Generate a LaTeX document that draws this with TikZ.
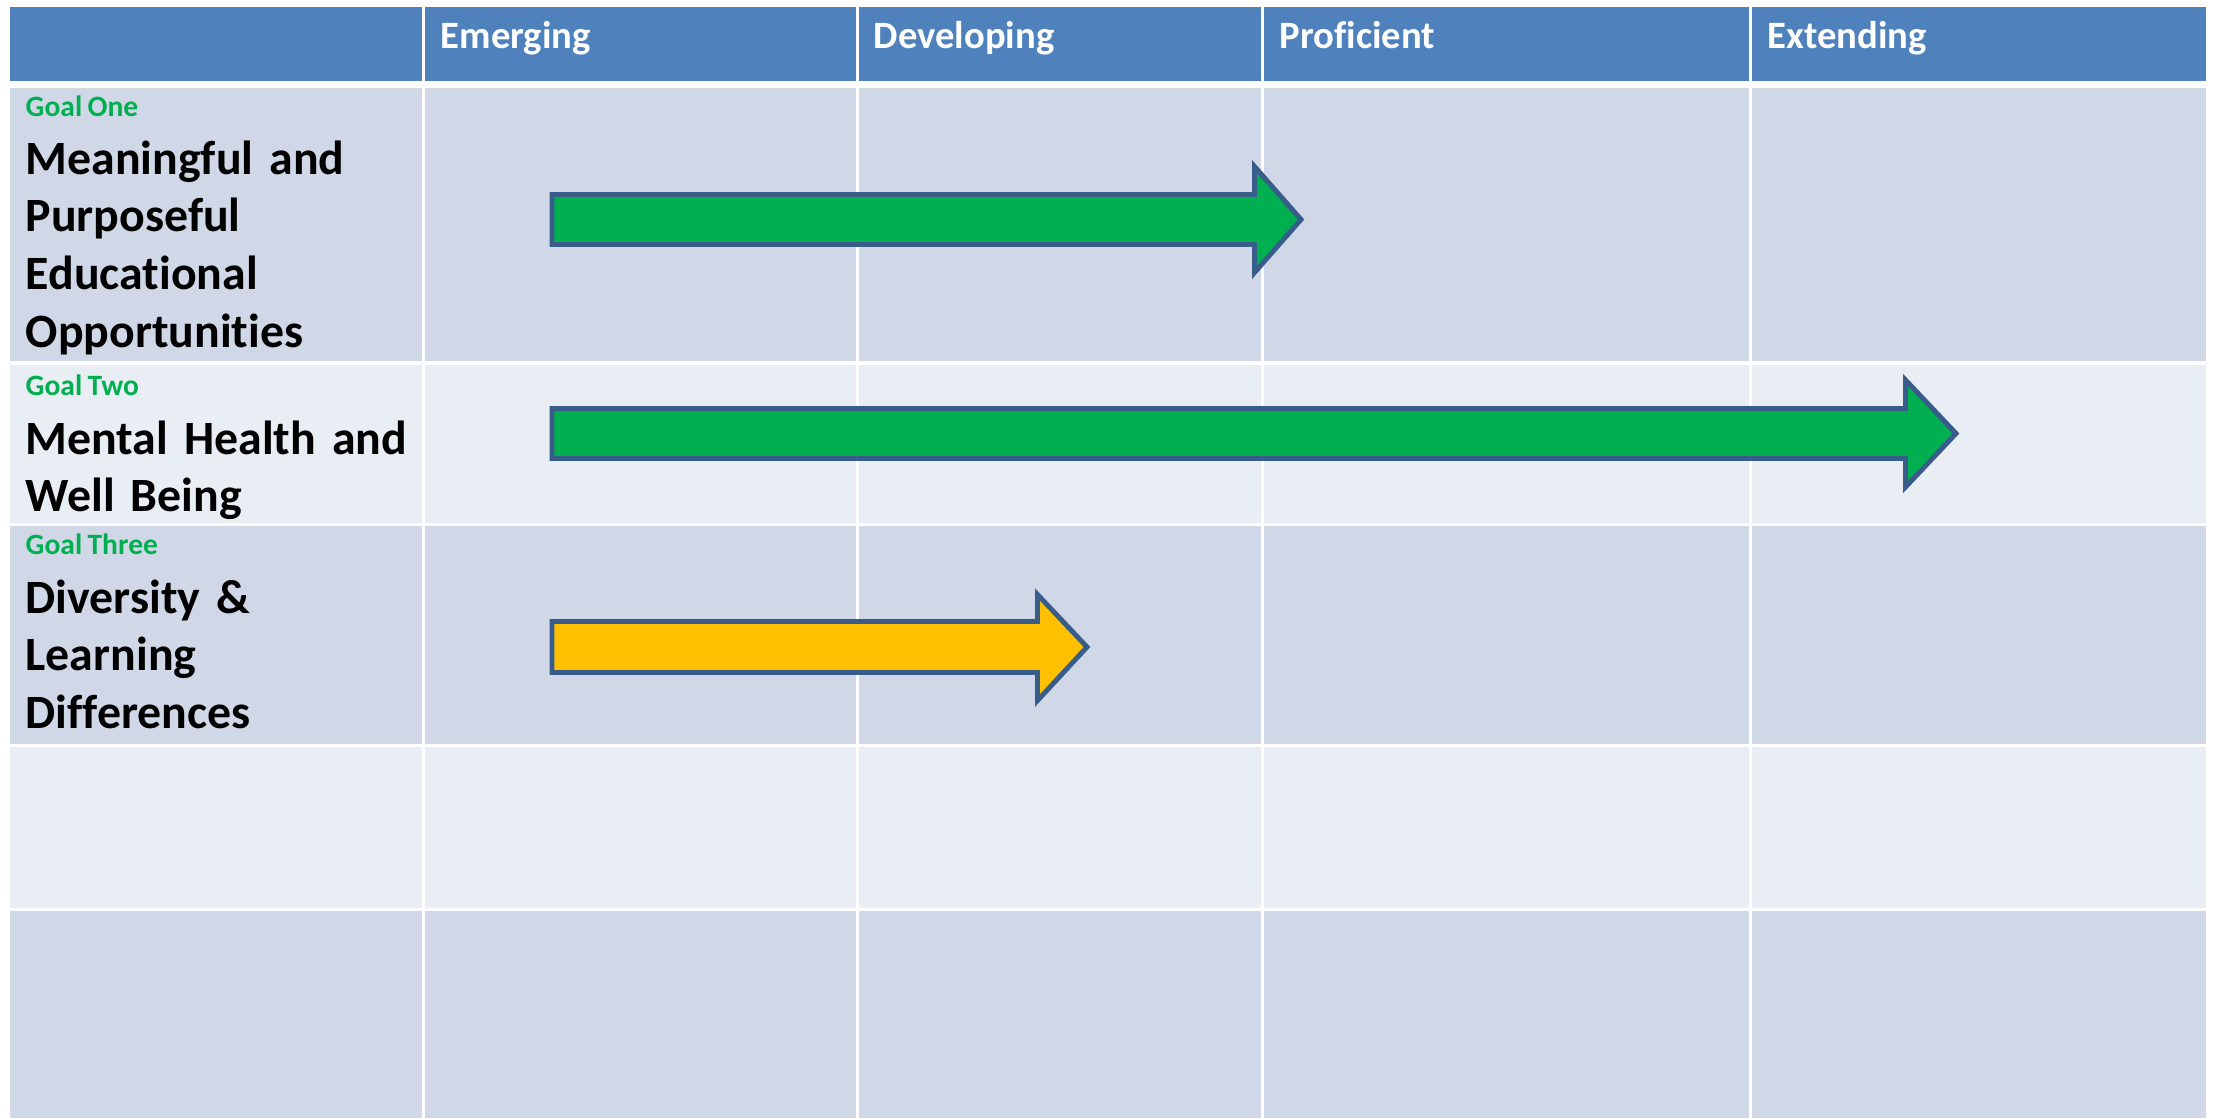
\documentclass[tikz,border=0pt]{standalone}
\usepackage{fontspec}
\setmainfont{Carlito}[Ligatures={NoCommon}, WordSpace={0.8}]
\definecolor{hdr}{HTML}{4F81BD}
\definecolor{rowdark}{HTML}{D0D8E8}
\definecolor{rowlight}{HTML}{E9EDF4}
\definecolor{outl}{HTML}{385D8A}
\definecolor{agreen}{HTML}{00B050}
\definecolor{ayellow}{HTML}{FFC000}
\tikzset{
  hdrtext/.style={anchor=base west, inner sep=0pt, text=white, font=\fontsize{11}{13}\selectfont\bfseries},
  goallabel/.style={anchor=base west, inner sep=0pt, text=agreen, font=\fontsize{8.4}{10}\selectfont\bfseries},
  goaltitle/.style={anchor=base west, inner sep=0pt, text=black, text width=4cm, align=left, font=\fontsize{13.6}{16.4}\selectfont\bfseries},
  arrowshape/.style={draw=outl, line width=1.4pt, miter limit=10}
}
\begin{document}
\begin{tikzpicture}[x=0.01cm,y=-0.01cm]
\useasboundingbox[fill=white] (0,0) rectangle (2216,1118);
% header cells
\foreach \xa/\xb in {10/422, 425/856, 859/1261, 1264/1749, 1752/2206}
  \fill[hdr] (\xa,7) rectangle (\xb,81);
% body cells
\foreach \ya/\yb/\c in {88/361/rowdark, 365/523/rowlight, 526/744/rowdark, 747/908/rowlight, 911/1118/rowdark}
  \foreach \xa/\xb in {10/422, 425/856, 859/1261, 1264/1749, 1752/2206}
    \fill[\c] (\xa,\ya) rectangle (\xb,\yb);
% header texts
\node[hdrtext] (hemerg) at (440,48) {Emerging};
\node[hdrtext] (hdevel) at (873,48) {Developing};
\node[hdrtext] (hprof) at (1279,48) {Proficient};
\node[hdrtext] (hext) at (1767,48) {Extending};
% goals
\node[goallabel] (g1) at (25,116) {Goal One};
\node[goaltitle] (t1) at (25,174) {Meaningful and\\Purposeful\\Educational\\Opportunities};
\node[goallabel] (g2) at (25,395) {Goal Two};
\node[goaltitle] (t2) at (25,454) {Mental Health and\\Well Being};
\node[goallabel] (g3) at (25,554) {Goal Three};
\node[goaltitle] (t3) at (25,613) {Diversity \&\\Learning\\Differences};
% arrows
\draw[arrowshape, fill=agreen] (552,194.5) -- (1254.5,194.5) -- (1254.5,166.5) -- (1301,219.5)
  -- (1254.5,272.5) -- (1254.5,244.5) -- (552,244.5) -- cycle;
\draw[arrowshape, fill=agreen] (552,408.5) -- (1905.5,408.5) -- (1905.5,380) -- (1956,433.5)
  -- (1905.5,487) -- (1905.5,458.5) -- (552,458.5) -- cycle;
\draw[arrowshape, fill=ayellow] (552,621.5) -- (1037.5,621.5) -- (1037.5,594.5) -- (1087,647)
  -- (1037.5,700.5) -- (1037.5,672.5) -- (552,672.5) -- cycle;
\end{tikzpicture}
\end{document}
